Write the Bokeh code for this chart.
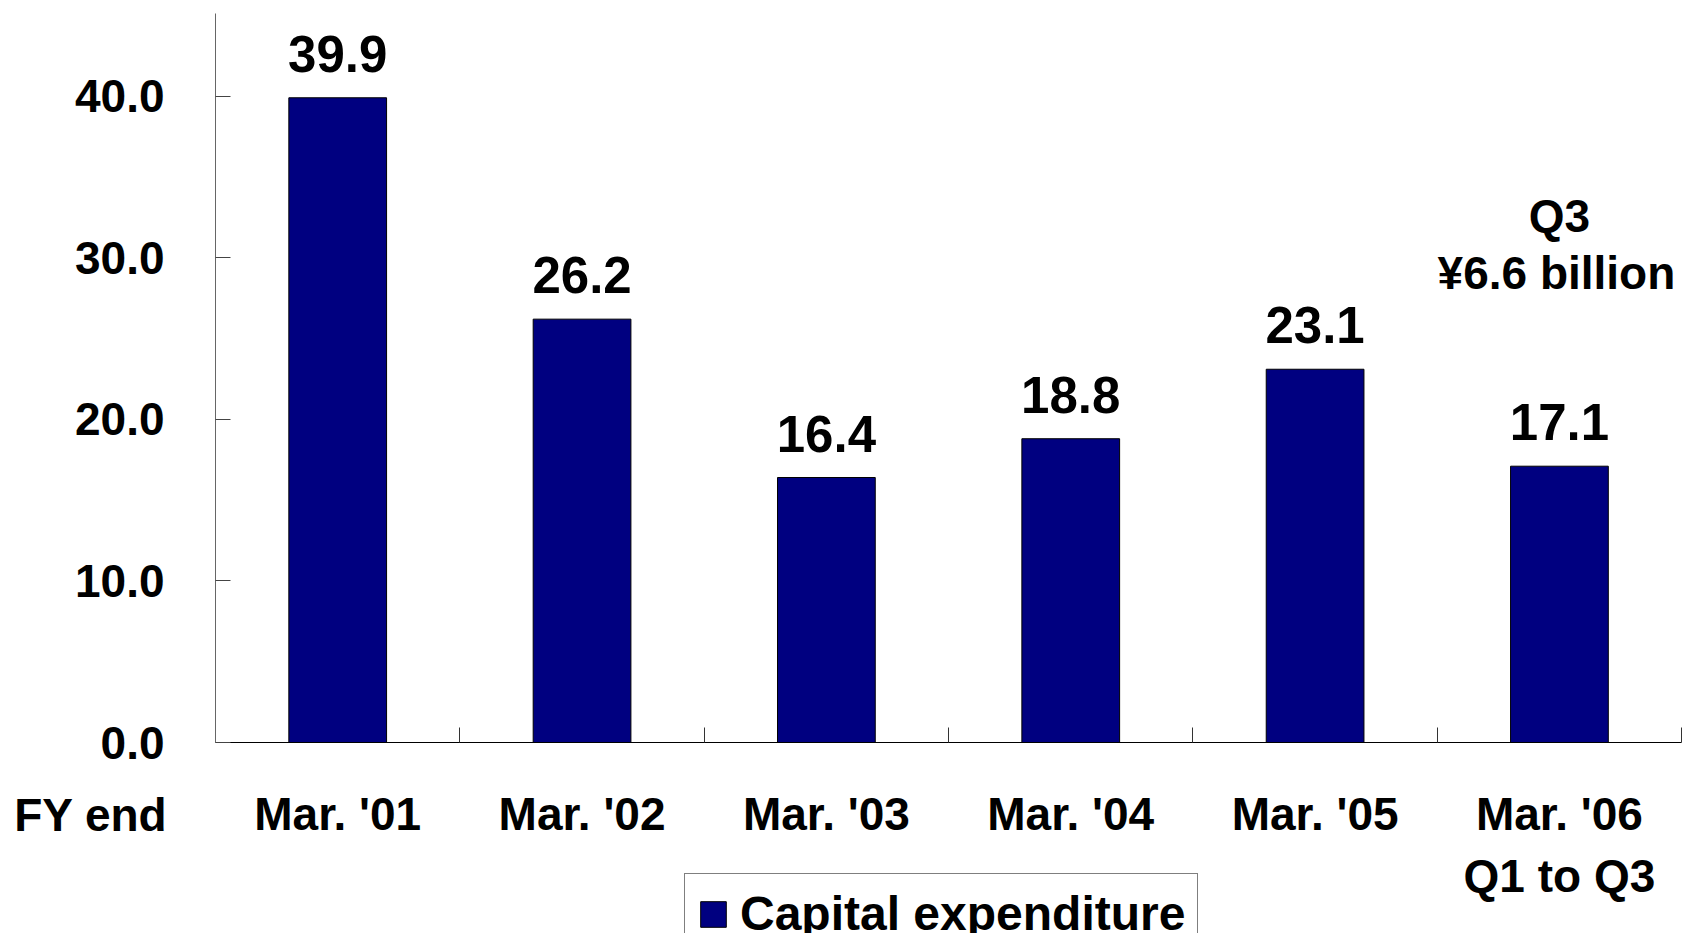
from bokeh.plotting import figure
from bokeh.models import (Range1d, FixedTicker, ColumnDataSource, LabelSet, Label,
                          Legend, LegendItem)
from bokeh.core.properties import value
from bokeh.embed import file_html
from bokeh.resources import INLINE

# ---- data ----
categories = ["Mar. '01", "Mar. '02", "Mar. '03", "Mar. '04", "Mar. '05", "Mar. '06\nQ1 to Q3"]
capex = [39.9, 26.2, 16.4, 18.8, 23.1, 17.1]
capex_labels = ["39.9", "26.2", "16.4", "18.8", "23.1", "17.1"]
y_ticks = [0, 10, 20, 30, 40]
y_tick_labels = ["0.0", "10.0", "20.0", "30.0", "40.0"]
series_name = "Capital expenditure"
x_title = "FY end"
note_lines = ["Q3", "¥6.6 billion"]

FONT = "Liberation Sans"
NAVY = "#000080"

n = len(categories)
x_pos = [i + 0.5 for i in range(n)]          # category centres
x_bounds = [i + 1 for i in range(n)]         # category boundaries (tick marks)

src = ColumnDataSource(dict(x=x_pos, val=capex, lbl=capex_labels))

p = figure(width=1686, height=933,
           x_range=Range1d(-0.88, 6.02),
           y_range=Range1d(-11.82, 45.92),
           output_backend="svg", toolbar_location=None,
           min_border_left=0, min_border_right=0, min_border_top=0, min_border_bottom=0)
p.outline_line_color = None
p.xgrid.visible = False
p.ygrid.visible = False

# x axis: labels at category centres, tick marks at boundaries (minor ticks)
xax = p.xaxis[0]
xax.fixed_location = 0
xax.bounds = (0, n)
xax.ticker = FixedTicker(ticks=x_pos, minor_ticks=x_bounds)
xax.major_label_overrides = {x: c for x, c in zip(x_pos, categories)}
xax.major_tick_line_color = None
xax.minor_tick_in = 15
xax.minor_tick_out = 0
xax.minor_tick_line_color = "#333333"
xax.axis_line_color = "black"
xax.major_label_standoff = 39
xax.major_label_text_font = FONT
xax.major_label_text_font_style = "bold"
xax.major_label_text_font_size = "46px"
xax.major_label_text_color = "black"

# y axis
yax = p.yaxis[0]
yax.fixed_location = 0
yax.bounds = (0, 45.1)
yax.ticker = FixedTicker(ticks=y_ticks)
yax.major_label_overrides = {t: s for t, s in zip(y_ticks, y_tick_labels)}
yax.major_tick_in = 15
yax.major_tick_out = 0
yax.minor_tick_line_color = None
yax.axis_line_color = "#666666"
yax.major_tick_line_color = "#444444"
yax.major_label_standoff = 51
yax.major_label_text_font = FONT
yax.major_label_text_font_style = "bold"
yax.major_label_text_font_size = "46px"
yax.major_label_text_color = "black"

bars = p.vbar(x="x", top="val", width=0.4, source=src,
              fill_color=NAVY, line_color="black", line_width=1)

labels = LabelSet(x="x", y="val", text="lbl", source=src,
                  text_align="center", text_baseline="alphabetic", y_offset=26,
                  text_font=value(FONT), text_font_style="bold", text_font_size="51px",
                  text_color="black")
p.add_layout(labels)

p.add_layout(Label(x=0, y=-4.5, x_offset=-48, text=x_title,
                   text_align="right", text_baseline="alphabetic",
                   text_font=FONT, text_font_style="bold", text_font_size="46px",
                   text_color="black"))

p.add_layout(Label(x=x_pos[-1], y=32.6, text=note_lines[0],
                   text_align="center", text_baseline="alphabetic",
                   text_font=FONT, text_font_style="bold", text_font_size="46px",
                   text_color="black"))
p.add_layout(Label(x=x_pos[-1], y=29.05, x_offset=-3, text=note_lines[1],
                   text_align="center", text_baseline="alphabetic",
                   text_font=FONT, text_font_style="bold", text_font_size="46px",
                   text_color="black"))

legend = Legend(items=[LegendItem(label=series_name, renderers=[bars])],
                location=(684, -21), orientation="vertical",
                margin=0, padding=12, spacing=0,
                glyph_width=32, glyph_height=32, label_standoff=11,
                label_text_font=FONT, label_text_font_style="bold",
                label_text_font_size="48px", label_text_color="black",
                border_line_color="black", border_line_width=1,
                background_fill_color="white", background_fill_alpha=1)
p.add_layout(legend)

open("out.html", "w").write(file_html(p, INLINE))
